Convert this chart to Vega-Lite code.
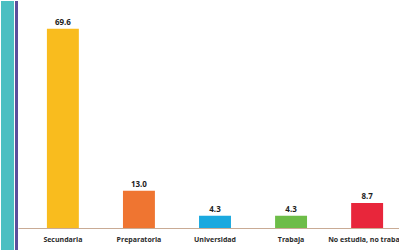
{
  "$schema": "https://vega.github.io/schema/vega-lite/v6.json",
  "padding": 0,
  "spacing": 0,
  "background": "white",
  "config": {"view": {"stroke": null}, "concat": {"spacing": 0}},
  "hconcat": [
    {
      "width": 13, "height": 250,
      "view": {"fill": "#4cbfc2", "stroke": null},
      "data": {"values": [{}]},
      "mark": {"type": "rule", "opacity": 0},
      "encoding": {}
    },
    {
      "width": 3, "height": 250,
      "view": {"fill": "#5b4f9c", "stroke": null},
      "data": {"values": [{}]},
      "mark": {"type": "rule", "opacity": 0},
      "encoding": {}
    },
    {
      "width": 394, "height": 227,
      "data": {"values": [
        {"cat": "Secundaria", "val": 69.6, "color": "#f9bc1e"},
        {"cat": "Preparatoria", "val": 13.0, "color": "#ef7531"},
        {"cat": "Universidad", "val": 4.3, "color": "#1ba9df"},
        {"cat": "Trabaja", "val": 4.3, "color": "#6dbd48"},
        {"cat": "No estudia, no trabaja", "val": 8.7, "color": "#e8263b"}
      ]},
      "encoding": {
        "x": {"field": "cat", "type": "nominal", "sort": null,
          "scale": {"paddingInner": 0.58, "paddingOuter": 0.38},
          "axis": {"title": null, "labelAngle": 0, "ticks": false, "domainColor": "#c9ab95",
            "labelFont": "Open Sans", "labelFontWeight": "bold", "labelFontSize": 7,
            "labelColor": "#2a2a2a", "labelPadding": 7, "labelOverlap": false}},
        "y": {"field": "val", "type": "quantitative", "scale": {"domain": [0, 79.3]}, "axis": null}
      },
      "layer": [
        {"mark": {"type": "bar"}, "encoding": {"color": {"field": "color", "type": "nominal", "scale": null}}},
        {"mark": {"type": "text", "dy": -6, "font": "Open Sans", "fontWeight": "bold", "fontSize": 8, "color": "#1e1e1e"},
         "encoding": {"text": {"field": "val", "type": "quantitative", "format": ".1f"}}}
      ]
    }
  ]
}
